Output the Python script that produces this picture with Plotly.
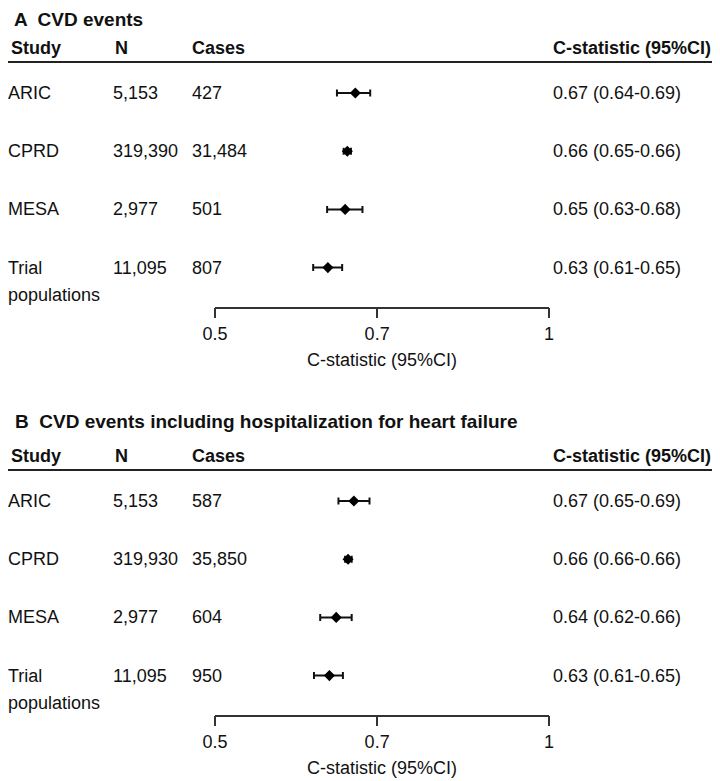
import math
import plotly.graph_objects as go

# ---------------- data ----------------
studies = ["ARIC", "CPRD", "MESA", "Trial populations"]

# Panel A: CVD events
a_n = ["5,153", "319,390", "2,977", "11,095"]
a_cases = ["427", "31,484", "501", "807"]
a_c = [0.669, 0.658, 0.655, 0.632]
a_lo = [0.644, 0.653, 0.631, 0.613]
a_hi = [0.690, 0.663, 0.679, 0.651]
a_label = ["0.67 (0.64-0.69)", "0.66 (0.65-0.66)", "0.65 (0.63-0.68)", "0.63 (0.61-0.65)"]

# Panel B: CVD events including hospitalization for heart failure
b_n = ["5,153", "319,930", "2,977", "11,095"]
b_cases = ["587", "35,850", "604", "950"]
b_c = [0.667, 0.659, 0.643, 0.634]
b_lo = [0.646, 0.655, 0.622, 0.614]
b_hi = [0.689, 0.664, 0.664, 0.652]
b_label = ["0.67 (0.65-0.69)", "0.66 (0.66-0.66)", "0.64 (0.62-0.66)", "0.63 (0.61-0.65)"]

tick_vals = [0.5, 0.7, 1]
tick_text = ["0.5", "0.7", "1"]

panel_titles = ["A  CVD events", "B  CVD events including hospitalization for heart failure"]
headers = ["Study", "N", "Cases", "C-statistic (95%CI)"]
x_title = "C-statistic (95%CI)"

# ---------------- layout constants (page pixels) ----------------
PAGE_OFF = 8                       # browser body margin
W, H = 720 - PAGE_OFF, 781 - PAGE_OFF
FONT = "Liberation Sans, Arial, Helvetica, sans-serif"
FS = 18
PLOT_L, PLOT_R = 215, 549
ROW0 = 93
ROW_GAP = 58.2
OFFSET = 408
Y_BOTTOM_VAL = 3.67
Y_TOP_VAL = -0.5


def py(px):
    return 1 - (px - PAGE_OFF) / H


def pxx(px):
    return (px - PAGE_OFF) / W


fig = go.Figure()
annotations = []
shapes = []

panels = [
    (a_n, a_cases, a_c, a_lo, a_hi, a_label),
    (b_n, b_cases, b_c, b_lo, b_hi, b_label),
]

for k, (nn, cs, c, lo, hi, lab) in enumerate(panels):
    off = OFFSET * k
    xa = "x" if k == 0 else "x2"
    ya = "y" if k == 0 else "y2"
    top_px = ROW0 + off + Y_TOP_VAL * ROW_GAP
    bot_px = ROW0 + off + Y_BOTTOM_VAL * ROW_GAP
    dom = [py(bot_px), py(top_px)]
    axis_x = dict(
        type="log",
        range=[math.log10(0.5), math.log10(1)],
        domain=[pxx(PLOT_L), pxx(PLOT_R)],
        tickvals=tick_vals,
        ticktext=tick_text,
        ticks="outside",
        ticklen=10,
        tickwidth=1.5,
        tickcolor="#333",
        showline=True,
        linecolor="#333",
        linewidth=1.5,
        showgrid=False,
        zeroline=False,
        automargin=False,
        tickfont=dict(family=FONT, size=FS, color="#111"),
        anchor=ya,
    )
    axis_y = dict(
        range=[Y_BOTTOM_VAL, Y_TOP_VAL],
        domain=dom,
        visible=False,
        showgrid=False,
        zeroline=False,
        automargin=False,
        anchor=xa,
    )
    if k == 0:
        fig.update_layout(xaxis=axis_x, yaxis=axis_y)
    else:
        fig.update_layout(xaxis2=axis_x, yaxis2=axis_y)

    rows = list(range(len(studies)))
    fig.add_trace(go.Scatter(
        x=c, y=rows, xaxis=xa, yaxis=ya, mode="markers",
        marker=dict(symbol="diamond", size=8.5, color="black"),
        error_x=dict(type="data", symmetric=False,
                     array=[h - v for h, v in zip(hi, c)],
                     arrayminus=[v - l for v, l in zip(c, lo)],
                     color="#111", thickness=2, width=3.5),
        showlegend=False, hoverinfo="skip",
    ))

    # panel title
    if k == 0:
        annotations.append(dict(text="<b>%s</b>" % panel_titles[k], x=pxx(13), y=1.0,
                                xref="paper", yref="paper", xanchor="left", yanchor="top",
                                borderpad=0, showarrow=False,
                                font=dict(family=FONT, size=19, color="#111")))
    else:
        annotations.append(dict(text="<b>%s</b>" % panel_titles[k], x=pxx(13), y=py(13 + off),
                                xref="paper", yref="paper", xanchor="left", yanchor="middle",
                                showarrow=False, font=dict(family=FONT, size=19, color="#111")))
    hx = [9, 113, 190, 551]
    for h_txt, x0 in zip(headers, hx):
        annotations.append(dict(text="<b>%s</b>" % h_txt, x=pxx(x0), y=py(48 + off),
                                xref="paper", yref="paper", xanchor="left", yanchor="middle",
                                showarrow=False, font=dict(family=FONT, size=FS, color="#111")))
    shapes.append(dict(type="line", xref="paper", yref="paper",
                       x0=pxx(PAGE_OFF), x1=pxx(718), y0=py(62 + off), y1=py(62 + off),
                       line=dict(color="#222", width=2)))

    for i, s in enumerate(studies):
        parts = s.split(" ")
        annotations.append(dict(text=parts[0], x=pxx(6), y=i, xref="paper", yref=ya,
                                xanchor="left", yanchor="middle", showarrow=False,
                                font=dict(family=FONT, size=FS, color="#111")))
        if len(parts) > 1:
            annotations.append(dict(text=" ".join(parts[1:]), x=pxx(6), y=i + 27 / ROW_GAP,
                                    xref="paper", yref=ya, xanchor="left", yanchor="middle",
                                    showarrow=False, font=dict(family=FONT, size=FS, color="#111")))
        annotations.append(dict(text=nn[i], x=pxx(111), y=i, xref="paper", yref=ya,
                                xanchor="left", yanchor="middle", showarrow=False,
                                font=dict(family=FONT, size=FS, color="#111")))
        annotations.append(dict(text=cs[i], x=pxx(190), y=i, xref="paper", yref=ya,
                                xanchor="left", yanchor="middle", showarrow=False,
                                font=dict(family=FONT, size=FS, color="#111")))
        annotations.append(dict(text=lab[i], x=pxx(551), y=i,
                                xref="paper", yref=ya, xanchor="left", yanchor="middle",
                                showarrow=False, font=dict(family=FONT, size=FS, color="#111")))

    annotations.append(dict(text=x_title, x=pxx((PLOT_L + PLOT_R) / 2), y=py(360 + off),
                            xref="paper", yref="paper", xanchor="center", yanchor="middle",
                            showarrow=False, font=dict(family=FONT, size=FS, color="#111")))

fig.update_layout(
    width=W, height=H,
    margin=dict(l=0, r=0, t=0, b=0, autoexpand=False),
    paper_bgcolor="white", plot_bgcolor="white",
    showlegend=False,
    annotations=annotations, shapes=shapes,
    font=dict(family=FONT, size=FS, color="#111"),
)

fig.write_html("out.html")
